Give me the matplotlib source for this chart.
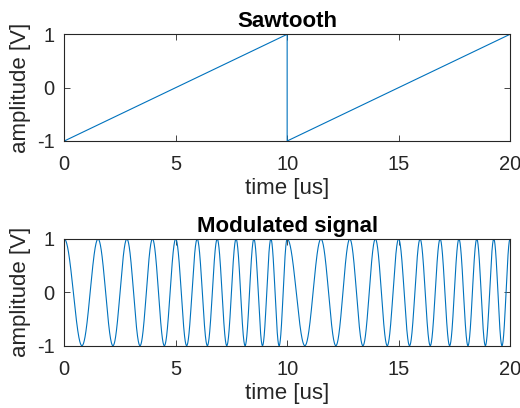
import numpy as np
import matplotlib
matplotlib.use("Agg")
import matplotlib.pyplot as plt

plt.rcParams['font.family'] = ['Liberation Sans', 'DejaVu Sans']
plt.rcParams['axes.unicode_minus'] = False

# Data
saw_t = [0, 10, 10, 20]          # us
saw_v = [-1, 1, -1, 1]           # V
carrier_mhz = 1.0                # carrier frequency (MHz), read from peak count
deviation_mhz = 0.4              # frequency deviation per V of sawtooth (MHz)
xticks = [0, 5, 10, 15, 20]
yticks = [-1, 0, 1]
titles = ["Sawtooth", "Modulated signal"]

# modulated signal: phase is integral of instantaneous frequency
t = np.linspace(0, 20, 4001)
saw = np.interp(t % 10, [0, 10], [-1, 1])
saw[-1] = 1
dt = t[1] - t[0]
phase = 2 * np.pi * np.concatenate([[0], np.cumsum((carrier_mhz + deviation_mhz * (saw[1:] + saw[:-1]) / 2) * dt)])
mod = np.cos(phase)

W, H = 520, 408
fig = plt.figure(figsize=(W / 100, H / 100), dpi=100)
blue = '#0072BD'
edge = '#262626'

def mk(left, top, right, bottom):
    return fig.add_axes([left / W, 1 - bottom / H, (right - left) / W, (bottom - top) / H])

ax1 = mk(64.3, 34.3, 510, 141)
ax2 = mk(64.3, 239, 510, 345.7)

ax1.plot(saw_t, saw_v, color=blue, lw=0.8)
ax2.plot(t, mod, color=blue, lw=0.8)

for ax, title in zip([ax1, ax2], titles):
    ax.set_xlim(0, 20)
    ax.set_ylim(-1, 1)
    ax.set_xticks(xticks)
    ax.set_yticks(yticks)
    ax.set_title(title, fontsize=16, fontweight='bold', pad=5, color='black')
    ax.set_xlabel("time [us]", fontsize=16, color=edge, labelpad=3)
    ax.set_ylabel("amplitude [V]", fontsize=16, color=edge, labelpad=4)
    ax.tick_params(direction='in', length=4, width=0.6, colors=edge, labelsize=14.5,
                   top=True, right=True)
    ax.tick_params(axis='x', pad=10)
    ax.tick_params(axis='y', pad=7)
    for s in ax.spines.values():
        s.set_color(edge)
        s.set_linewidth(0.8)

fig.savefig("out.png", dpi=100)
